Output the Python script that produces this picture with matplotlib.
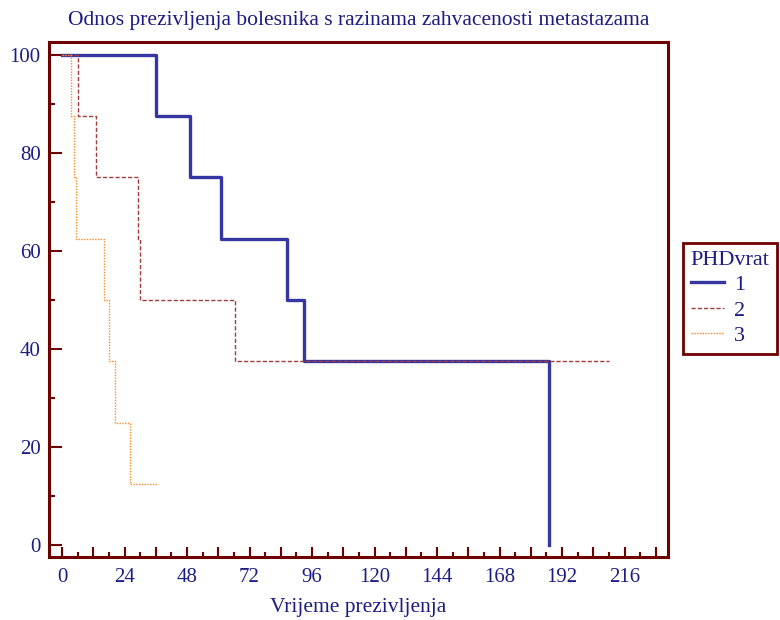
import matplotlib
matplotlib.use("Agg")
import matplotlib.pyplot as plt
from matplotlib.ticker import MultipleLocator, FuncFormatter

# survival steps (time, survival %)
t1 = [0, 36, 49, 61, 86.5, 93, 187]
s1 = [100, 87.5, 75, 62.5, 50, 37.5, 0]
t2 = [0, 6, 13, 29, 30, 66.5, 210]
s2 = [100, 87.5, 75, 62.5, 50, 37.5, 37.5]
t3 = [0, 3.3, 4.5, 5.3, 16, 18, 20.5, 26, 36.5]
s3 = [100, 87.5, 75, 62.5, 50, 37.5, 25, 12.5, 12.5]
labels = ["1", "2", "3"]

TXT = "#1c1c84"
AX = "#6e0000"

plt.rcParams["font.family"] = ["Liberation Serif", "DejaVu Serif"]

fig = plt.figure(figsize=(7.8, 6.2), dpi=100)
ax = fig.add_axes([49 / 780, 1 - 557 / 620, (668 - 49) / 780, (557 - 42) / 620])

ax.step(t1, s1, where="post", color="#3636a2", lw=2.4, label=labels[0])
ax.step(t2, s2, where="post", color="#a53a3a", lw=1.0, ls=(0, (3, 1.5)), label=labels[1])
ax.step(t3, s3, where="post", color="#ff8a2a", lw=1.0, ls=(0, (1, 1)), label=labels[2])

ax.set_xlim(-5, 232.7)
ax.set_ylim(-2.35, 102.6)

ax.xaxis.set_major_locator(MultipleLocator(12))
ax.xaxis.set_minor_locator(MultipleLocator(6))
ax.xaxis.set_major_formatter(FuncFormatter(lambda v, p: f"{v:.0f}" if round(v) % 24 == 0 else ""))
ax.yaxis.set_major_locator(MultipleLocator(20))
ax.yaxis.set_minor_locator(MultipleLocator(10))

for sp in ax.spines.values():
    sp.set_color(AX)
    sp.set_linewidth(2.2)

ax.tick_params(axis="both", which="both", direction="in", color=AX, width=1.5,
               labelcolor=TXT, labelsize=15)
ax.tick_params(axis="x", which="major", length=7.5, pad=8)
ax.tick_params(axis="x", which="minor", length=3.5)
ax.tick_params(axis="y", which="major", length=9, pad=6)
ax.tick_params(axis="y", which="minor", length=4.5)

ax.set_title("Odnos prezivljenja bolesnika s razinama zahvacenosti metastazama",
             color=TXT, fontsize=15.5, pad=12)
ax.set_xlabel("Vrijeme prezivljenja", color=TXT, fontsize=15.5, labelpad=8)

leg = fig.legend(loc="upper left", bbox_to_anchor=(683 / 780, 1 - 243 / 620),
                 title="PHDvrat", fontsize=16, title_fontsize=16, frameon=True,
                 fancybox=False, framealpha=1.0, handlelength=1.5,
                 handletextpad=0.45, borderpad=0.35, borderaxespad=0,
                 labelspacing=0.22, alignment="left")
leg.get_frame().set_edgecolor(AX)
leg.get_frame().set_linewidth(2.0)
leg.get_title().set_color(TXT)
for txt in leg.get_texts():
    txt.set_color(TXT)

fig.savefig("out.png", dpi=100)
